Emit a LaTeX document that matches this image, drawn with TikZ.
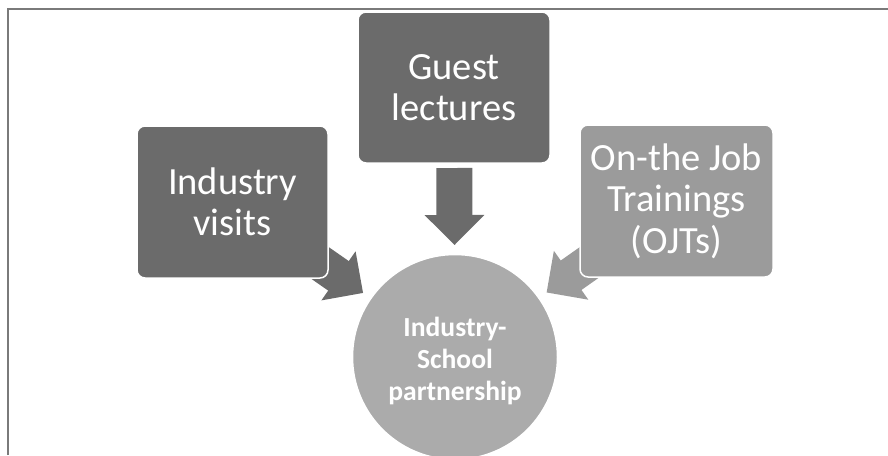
\documentclass[tikz,border=0pt]{standalone}
\usepackage{fontspec}
\setmainfont{Carlito}
\usepackage{tikz}
\usetikzlibrary{calc,arrows.meta,positioning,backgrounds}
\definecolor{boxdark}{RGB}{107,107,107}
\definecolor{boxlight}{RGB}{155,155,155}
\definecolor{hubgray}{RGB}{171,171,171}
\definecolor{framegray}{RGB}{122,122,122}
\tikzset{
  pbox/.style={rectangle, rounded corners=8pt, draw=white, line width=1.5pt,
               text=white, align=center, inner sep=0pt,
               minimum width=192pt, minimum height=152pt,
               font=\fontsize{38.5}{41.5}\selectfont},
  pdark/.style ={pbox, fill=boxdark},
  plight/.style={pbox, fill=boxlight},
  phub/.style={circle, fill=hubgray, draw=white, line width=1.5pt,
               minimum size=205pt, inner sep=0pt, text=white,
               font=\fontsize{27.6}{32}\selectfont\bfseries},
  pfeed/.style={line width=36pt, -{Triangle[length=30pt,width=58pt]}},
}
\begin{document}
\begin{tikzpicture}[x=1pt, y=-1pt,
    frame/.style={framegray, line width=1.8pt}]
  \useasboundingbox (0,0) rectangle (888,455);
  \draw[frame] (7.8,455) |- (888,8.6);

  \node[phub]   (hub)    at (455,357)
    {\raisebox{-5pt}[\height][\depth]{\begin{tabular}{@{}c@{}}Industry-\\School\\partnership\end{tabular}}};
  \node[pdark]  (visits) at (232.5,202) [minimum width=191pt] {Industry\\visits};
  \node[pdark]  (guest)  at (454,87.5)  [minimum height=151pt] {Guest\\lectures};
  \node[plight] (ojt)    at (676.5,201) [minimum width=193pt] {On-the Job\\Trainings\\(OJTs)};

  % arrows sit behind the boxes, tips 112pt off the hub centre
  \begin{scope}[on background layer]
    \foreach \src/\col in {visits/boxdark, guest/boxdark, ojt/boxlight}
      \draw[pfeed, \col] ($(hub.center)!189pt!(\src.center)$)
                      -- ($(hub.center)!112pt!(\src.center)$);
  \end{scope}
\end{tikzpicture}
\end{document}
